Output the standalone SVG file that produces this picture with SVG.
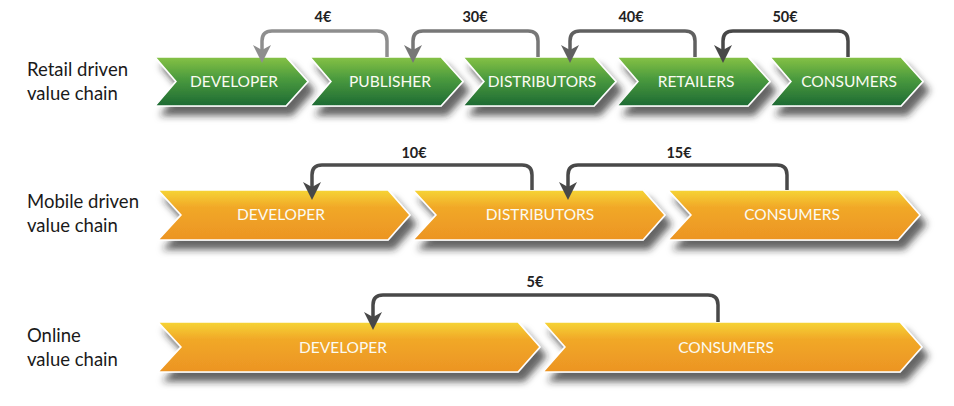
<svg xmlns="http://www.w3.org/2000/svg" width="954" height="406" viewBox="0 0 954 406">
<style>
.lbl{font-family:Lato,"Open Sans","Liberation Sans",sans-serif;font-size:18.5px;fill:#1a1a1a}
.nt{font-family:Lato,"Open Sans","Liberation Sans",sans-serif;font-size:15.5px;fill:#fbfbf2;text-anchor:middle}
.price{font-family:Lato,"Open Sans","Liberation Sans",sans-serif;font-size:14.5px;font-weight:bold;fill:#222;text-anchor:middle}
.g{fill:url(#gGreen);stroke:#fff;stroke-width:1.5;filter:url(#sh)}
.o{fill:url(#gOrange);stroke:#fff;stroke-width:1.5;filter:url(#sh)}
.c{fill:none;stroke-width:3.5}
</style>
<defs>
<linearGradient id="gGreen" x1="0" y1="0" x2="0" y2="1">
<stop offset="0" stop-color="#86c245"/>
<stop offset="0.45" stop-color="#4a9a3e"/>
<stop offset="1" stop-color="#1d6a33"/>
</linearGradient>
<linearGradient id="gOrange" x1="0" y1="0" x2="0" y2="1">
<stop offset="0" stop-color="#f6d535"/>
<stop offset="0.35" stop-color="#f1a828"/>
<stop offset="1" stop-color="#ec9423"/>
</linearGradient>
<filter id="sh" x="-10%" y="-20%" width="125%" height="170%">
<feGaussianBlur in="SourceAlpha" stdDeviation="3.5"/>
<feOffset dx="6" dy="9" result="b"/>
<feFlood flood-color="#222" flood-opacity="0.7"/>
<feComposite in2="b" operator="in"/>
<feMerge><feMergeNode/><feMergeNode in="SourceGraphic"/></feMerge>
</filter>
<marker id="a1" markerUnits="userSpaceOnUse" markerWidth="20" markerHeight="20" viewBox="0 -10 20 20" refX="6" refY="0" orient="auto"><path d="M0,-9 L18,0 L0,9 L5,0 Z" fill="#8e8e8e"/></marker>
<marker id="a2" markerUnits="userSpaceOnUse" markerWidth="20" markerHeight="20" viewBox="0 -10 20 20" refX="6" refY="0" orient="auto"><path d="M0,-9 L18,0 L0,9 L5,0 Z" fill="#777777"/></marker>
<marker id="a3" markerUnits="userSpaceOnUse" markerWidth="20" markerHeight="20" viewBox="0 -10 20 20" refX="6" refY="0" orient="auto"><path d="M0,-9 L18,0 L0,9 L5,0 Z" fill="#606060"/></marker>
<marker id="a4" markerUnits="userSpaceOnUse" markerWidth="20" markerHeight="20" viewBox="0 -10 20 20" refX="6" refY="0" orient="auto"><path d="M0,-9 L18,0 L0,9 L5,0 Z" fill="#484848"/></marker>
</defs>
<rect width="954" height="406" fill="#ffffff"/>

<g id="row-labels">
<text class="lbl" x="27" y="76">Retail driven</text>
<text class="lbl" x="27" y="100">value chain</text>
<text class="lbl" x="27" y="208">Mobile driven</text>
<text class="lbl" x="27" y="232">value chain</text>
<text class="lbl" x="27" y="342">Online</text>
<text class="lbl" x="27" y="366">value chain</text>
</g>

<g id="retail-consumers"><path class="g" d="M770,57 H901 L923,81.5 L901,106 H770 L791,81.5 Z"/><text class="nt" x="849" y="87">CONSUMERS</text></g>
<g id="retail-retailers"><path class="g" d="M617,57 H748 L770,81.5 L748,106 H617 L638,81.5 Z"/><text class="nt" x="696" y="87">RETAILERS</text></g>
<g id="retail-distributors"><path class="g" d="M463,57 H594 L616,81.5 L594,106 H463 L484,81.5 Z"/><text class="nt" x="542" y="87">DISTRIBUTORS</text></g>
<g id="retail-publisher"><path class="g" d="M310,57 H441 L463,81.5 L441,106 H310 L331,81.5 Z"/><text class="nt" x="390" y="87">PUBLISHER</text></g>
<g id="retail-developer"><path class="g" d="M155,57 H286 L308,81.5 L286,106 H155 L176,81.5 Z"/><text class="nt" x="234" y="87">DEVELOPER</text></g>

<g id="mobile-consumers"><path class="o" d="M668,190 H898 L920,215 L898,240 H668 L691,215 Z"/><text class="nt" x="792" y="220">CONSUMERS</text></g>
<g id="mobile-distributors"><path class="o" d="M413,190 H643 L665,215 L643,240 H413 L436,215 Z"/><text class="nt" x="540" y="220">DISTRIBUTORS</text></g>
<g id="mobile-developer"><path class="o" d="M158,190 H388 L410,215 L388,240 H158 L181,215 Z"/><text class="nt" x="281" y="220">DEVELOPER</text></g>

<g id="online-consumers"><path class="o" d="M543,322 H900 L922,347 L900,372 H543 L565,347 Z"/><text class="nt" x="726" y="353">CONSUMERS</text></g>
<g id="online-developer"><path class="o" d="M158,322 H518 L540,347 L518,372 H158 L181,347 Z"/><text class="nt" x="343" y="353">DEVELOPER</text></g>

<g id="connectors">
<path class="c" stroke="#8e8e8e" marker-end="url(#a1)" d="M387,57 V41 Q387,31 377,31 H272 Q262,31 262,41 V51"/>
<path class="c" stroke="#777777" marker-end="url(#a2)" d="M538,57 V41 Q538,31 528,31 H423 Q413,31 413,41 V51"/>
<path class="c" stroke="#606060" marker-end="url(#a3)" d="M695,57 V41 Q695,31 685,31 H580 Q570,31 570,41 V51"/>
<path class="c" stroke="#484848" marker-end="url(#a4)" d="M848,57 V41 Q848,31 838,31 H733 Q723,31 723,41 V51"/>
<path class="c" stroke="#4c4c4c" marker-end="url(#a4)" d="M532,190 V175 Q532,165 522,165 H322 Q312,165 312,175 V188"/>
<path class="c" stroke="#484848" marker-end="url(#a4)" d="M787,190 V175 Q787,165 777,165 H578 Q568,165 568,175 V188"/>
<path class="c" stroke="#484848" marker-end="url(#a4)" d="M718,322 V305 Q718,295 708,295 H383 Q373,295 373,305 V318"/>
<text class="price" x="323" y="22">4€</text>
<text class="price" x="475" y="22">30€</text>
<text class="price" x="631" y="22">40€</text>
<text class="price" x="785" y="22">50€</text>
<text class="price" x="414" y="158">10€</text>
<text class="price" x="679" y="158">15€</text>
<text class="price" x="535" y="287">5€</text>
</g>
</svg>
